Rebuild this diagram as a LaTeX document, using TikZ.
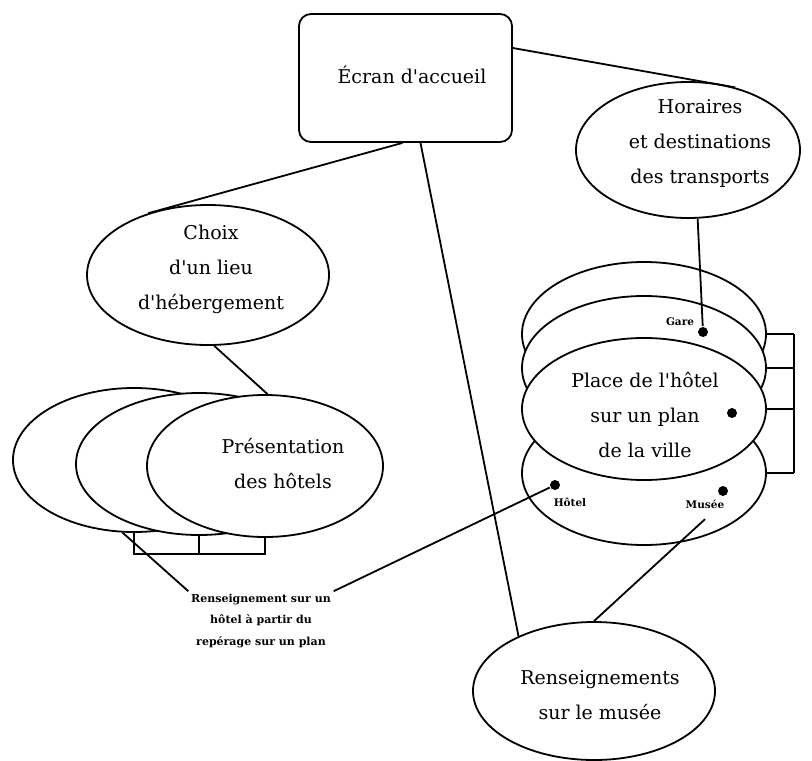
\documentclass[tikz,border=0pt]{standalone}
\usepackage{fontspec}
\setmainfont{DejaVu Serif}[Ligatures=TeXOff]
\usepackage{tikz}
\usetikzlibrary{shapes.geometric}

\begin{document}
\begin{tikzpicture}[x=1pt, y=-1pt, line width=1.8pt,
    oval/.style 2 args={ellipse, draw, fill=white, inner sep=0pt,
      minimum width=#1, minimum height=#2},
    texte/.style={align=center, font=\fontsize{19}{35}\selectfont},
    petit/.style={align=center, inner sep=2pt, font=\bfseries\fontsize{11}{21.5}\selectfont},
    repere/.style={inner sep=2pt, font=\bfseries\fontsize{10.5}{12}\selectfont},
    pastille/.style={circle, fill, inner sep=0pt, minimum size=10pt}]
  \useasboundingbox (0,0) rectangle (812,761);
  % (a) ecran d'accueil, horaires, choix du lieu
  \node[draw, rounded corners=12pt, minimum width=213pt, minimum height=128pt] (ecran) at (405.5,78) {};
  \node[texte] (ecrantxt) at (412,75) {Écran d'accueil};
  \node[oval={224pt}{136pt}] (horaires) at (688,150) {};
  \node[texte] (horairestxt) at (700,143) {Horaires\\et destinations\\des transports};
  \node[oval={242pt}{140pt}] (choix) at (208,275) {};
  \node[texte] (choixtxt) at (211,269) {Choix\\d'un lieu\\d'hébergement};
  % (b) pile des fiches d'hotels, a gauche
  \node[oval={242pt}{144pt}] (hleft) at (134,460) {};
  \node[oval={246pt}{142pt}] (hmid) at (199,464) {};
  \node[oval={236pt}{142pt}] (pres) at (265,466) {};
  \node[texte] (prestxt) at (283,464) {Présentation\\des hôtels};
  \coordinate (bas) at ([yshift=-16pt]pres.south);
  \draw (hleft.south) -- (hleft.south |- bas) -- (bas) -- (pres.south);
  \draw (hmid.south) -- (hmid.south |- bas);
  % (c) pile des plans de la ville, a droite
  \foreach \n/\y in {pla/334, plb/368, pld/473}
    \node[oval={244pt}{144pt}] (\n) at (644,\y) {};
  \node[oval={244pt}{142pt}] (place) at (644,409) {};
  \node[texte] (placetxt) at (645,415) {Place de l'hôtel\\sur un plan\\de la ville};
  \coordinate (droite) at ([xshift=27pt]pla.east);
  \foreach \n in {pla,plb,place,pld}
    \draw (\n.east) -- (\n.east -| droite);
  \draw (pla.east -| droite) -- (pld.east -| droite);
  \node[pastille] (gare) at (703,332) {};
  \node[repere] (garelbl) at (680,322) {Gare};
  \node[pastille] (placedot) at (732,413) {};
  \node[pastille] (hotel) at (555,485) {};
  \node[repere] (hotellbl) at (570,502) {Hôtel};
  \node[pastille] (musee) at (723,491) {};
  \node[repere] (museelbl) at (705,504) {Musée};
  % (d) musee et renvoi vers le plan
  \node[oval={242pt}{138pt}] (rens) at (594,691) {};
  \node[texte] (renstxt) at (600,695) {Renseignements\\sur le musée};
  \node[petit] (renslbl) at (261,621) {Renseignement sur un\\hôtel à partir du\\repérage sur un plan};
  % liaisons
  \draw ([yshift=30pt]ecran.east) -- (horaires.53);
  \draw ([xshift=-3pt]ecran.south) -- (choix.134);
  \draw ([xshift=15pt]ecran.south) -- (rens.144);
  \draw (horaires.-82) -- (gare);
  \draw (choix.-85) -- (pres.88);
  \draw (hotel) -- (renslbl.north east);
  \draw (hleft.-99) -- (renslbl.north west);
  \draw ([yshift=-8pt]museelbl.south) -- (rens.north);
\end{tikzpicture}
\end{document}
